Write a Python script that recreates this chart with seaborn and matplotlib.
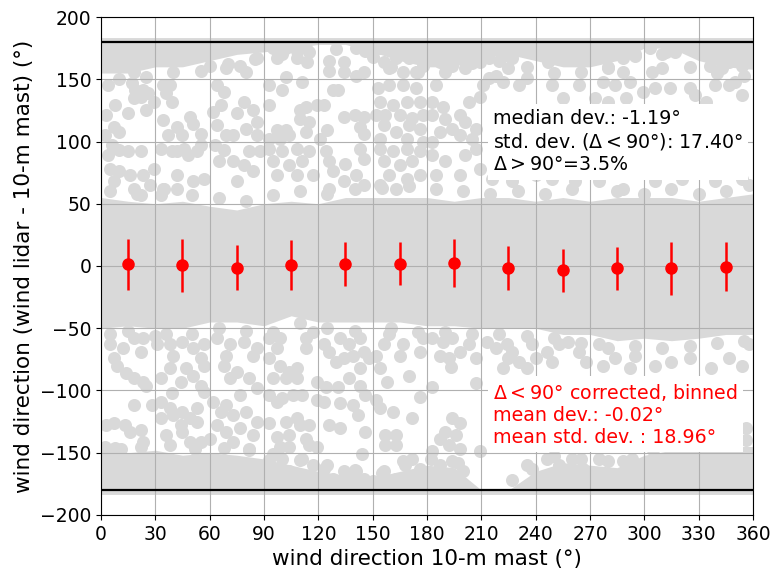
import matplotlib
matplotlib.use("Agg")
import matplotlib.pyplot as plt
import seaborn as sns
import numpy as np

# ---------------- data ----------------
# binned statistics (red error bars)
bin_centers = [15, 45, 75, 105, 135, 165, 195, 225, 255, 285, 315, 345]
bin_means = [1.5, 0.5, -1.5, 1.0, 1.5, 2.0, 2.5, -1.5, -3.5, -2.0, -2.0, -0.5]
bin_std = [20.5, 21.0, 18.0, 20.0, 17.5, 17.0, 19.5, 17.5, 17.5, 17.0, 21.0, 19.5]

# envelopes of the densely covered zones of the scatter cloud
core_x = [0, 15, 30, 45, 60, 75, 90, 105, 120, 135, 150, 165, 180,
          195, 210, 225, 240, 255, 270, 285, 300, 315, 330, 345, 360]
mid_hi = [55, 52, 50, 52, 48, 45, 50, 52, 50, 55, 55, 55, 55,
          52, 55, 55, 52, 55, 52, 55, 55, 55, 52, 55, 58]
mid_lo = [-50, -48, -50, -50, -45, -45, -48, -40, -45, -45, -45, -45, -48,
          -48, -50, -50, -50, -55, -55, -60, -58, -60, -58, -55, -55]
top_lo = [155, 155, 160, 160, 165, 170, 172, 175, 178, 178, 172, 165, 160,
          160, 168, 170, 165, 160, 160, 165, 175, 175, 165, 160, 158]
bot_hi = [-150, -150, -148, -152, -150, -152, -155, -160, -165, -168, -170, -165, -160,
          -162, -180, -180, -165, -158, -160, -162, -152, -148, -145, -145, -145]

# points scattered along the borders of the dense zones
edge_pts = [
    (5,60),(20,58),(35,62),(50,57),(65,55),(80,52),(95,57),(110,60),(125,58),(140,62),(155,63),
    (170,64),(185,62),(200,60),(215,58),(230,60),(245,58),(260,62),(285,60),(300,58),(315,62),
    (330,58),(345,60),(358,65),
    (5,-55),(15,-52),(30,-56),(50,-55),(65,-50),(80,-52),(95,-53),(110,-46),(125,-50),(140,-52),
    (160,-50),(175,-53),(190,-53),(205,-55),(220,-55),(235,-56),(250,-58),(265,-62),(280,-66),
    (295,-64),(310,-66),(325,-64),(340,-62),(355,-60),
    (10,150),(25,152),(40,156),(55,157),(70,162),(85,166),(100,170),(115,172),(130,174),(150,168),
    (160,160),(175,156),(190,156),(205,163),(220,165),(235,160),(250,155),(265,156),(280,160),
    (295,170),(310,170),(325,160),(340,155),(355,153),
    (8,-146),(22,-145),(38,-144),(52,-147),(68,-146),(82,-148),(95,-151),(110,-156),(125,-160),
    (140,-164),(155,-166),(168,-160),(182,-155),(197,-158),(235,-160),(250,-153),(265,-155),
    (280,-157),(293,-155),(305,-148),(320,-143),(335,-141),(350,-141),
]

# scattered individual points (upper half)
upper_pts = [
    (4,145),(8,129),(3,121),(15,123),(7,112),(10,108),(2,105),(17,147),(19,141),(23,141),(22,136),
    (26,139),(29,132),(25,125),(18,135),(34,145),(38,145),(36,139),(39,132),(34,117),(42,112),(49,120),
    (51,114),(37,105),(45,105),(55,106),(55,97),(42,92),(48,89),(53,92),(46,94),(6,97),(10,93),(15,92),
    (22,92),(4,89),(33,94),(39,92),(64,145),(68,140),(66,129),(62,124),(64,113),(69,105),(75,123),
    (79,132),(84,125),(86,116),(80,110),(86,105),(73,105),(63,97),(68,93),(65,84),(73,84),(79,81),
    (84,76),(75,68),(82,92),(88,92),(5,78),(10,76),(16,73),(23,73),(29,78),(7,68),(18,62),(27,65),
    (42,73),(34,62),(42,62),(51,68),(57,70),(33,57),(22,57),(18,156),(60,161),(69,159),(77,161),
    (86,167),(80,156),
    (95,175),(102,175),(108,173),(113,175),(97,167),(108,167),(114,164),(126,165),(134,164),(126,157),
    (134,156),(141,153),(141,175),(146,173),(145,156),(154,175),(161,175),(169,175),(176,175),(156,164),
    (163,167),(170,167),(178,161),(159,159),(167,156),(174,156),(93,145),(102,152),(111,148),(93,129),
    (100,141),(110,125),(113,128),(119,129),(115,116),(110,118),(123,129),(128,141),(131,141),(134,120),
    (140,121),(145,120),(143,112),(145,106),(125,109),(113,108),(97,109),(102,109),(104,105),(93,102),
    (99,102),(121,102),(153,143),(159,145),(167,145),(174,143),(154,132),(161,129),(169,132),(176,132),
    (152,121),(157,121),(165,121),(172,119),(178,121),(156,113),(163,108),(170,113),(176,110),(154,102),
    (169,102),(178,100),(93,94),(100,92),(108,94),(115,92),(95,84),(104,81),(111,84),(97,73),(108,73),
    (117,73),(124,92),(126,84),(128,76),(135,82),(143,94),(145,86),(141,73),(134,68),(145,65),(126,62),
    (154,94),(161,92),(169,94),(176,92),(156,84),(165,81),(172,84),(159,73),(169,70),(176,73),(154,65),
    (163,62),
    (183,175),(190,175),(198,175),(205,175),(187,164),(194,161),(201,159),(209,164),(214,167),(222,169),
    (227,167),(225,159),(218,153),(211,145),(214,151),(222,148),(231,145),(235,151),(249,145),(255,135),
    (247,164),(255,167),(262,169),(266,175),(246,175),(264,145),(185,145),(183,132),(189,128),(183,121),
    (190,118),(198,121),(201,116),(194,110),(187,108),(207,110),(203,132),(209,136),(198,105),(205,102),
    (183,100),(216,70),(227,68),(240,73),(249,70),(262,68),(183,89),(190,84),(201,89),(209,78),(198,73),
    (185,73),(207,94),
    (273,169),(280,175),(288,167),(295,169),(303,175),(312,172),(317,172),(310,159),(304,156),(288,156),
    (280,159),(277,148),(284,145),(292,148),(299,140),(306,143),(314,143),(325,143),(339,145),(347,145),
    (350,148),(354,137),(334,132),(328,137),(273,135),(280,132),(290,135),(334,175),(339,169),(347,164),
    (354,161),(343,159),(336,161),(275,68),(288,62),(306,68),(321,70),(339,68),(354,70),
]

# scattered individual points (lower half)
lower_pts = [
    (5,-63),(12,-66),(7,-74),(18,-58),(23,-58),(31,-63),(38,-63),(45,-61),(51,-66),(57,-63),(64,-58),
    (71,-63),(79,-61),(86,-66),(22,-69),(40,-72),(55,-74),(69,-72),(84,-72),(36,-55),(9,-80),(14,-86),
    (18,-90),(23,-93),(25,-96),(33,-90),(38,-82),(47,-82),(51,-88),(44,-93),(55,-96),(57,-80),(68,-80),
    (75,-85),(71,-90),(82,-90),(86,-98),(77,-104),(62,-109),(69,-112),(18,-112),(28,-112),(33,-109),
    (38,-114),(40,-120),(33,-122),(45,-117),(49,-122),(53,-114),(44,-128),(53,-125),(57,-101),(45,-133),
    (36,-136),(49,-141),(55,-141),(3,-128),(7,-126),(13,-128),(16,-133),(22,-132),(23,-141),(11,-147),
    (7,-147),(2,-145),(66,-117),(73,-120),(80,-117),(86,-125),(64,-128),(69,-133),(77,-130),(84,-136),
    (60,-139),(73,-141),(82,-147),(39,-102),
    (93,-58),(99,-58),(97,-66),(93,-74),(99,-80),(104,-85),(108,-90),(95,-90),(102,-90),(108,-82),
    (113,-58),(113,-66),(117,-53),(123,-63),(126,-69),(130,-77),(134,-74),(137,-63),(143,-58),(145,-69),
    (139,-72),(132,-58),(137,-90),(143,-82),(143,-96),(148,-74),(152,-72),(156,-63),(154,-82),(159,-55),
    (167,-63),(165,-72),(176,-69),(178,-58),(170,-88),(158,-93),(119,-93),(124,-97),(131,-97),(93,-104),
    (97,-109),(100,-106),(106,-104),(111,-104),(119,-108),(123,-109),(132,-110),(139,-112),(142,-120),
    (146,-104),(152,-108),(154,-114),(161,-117),(176,-105),(172,-122),(93,-126),(102,-125),(108,-122),
    (110,-128),(115,-128),(97,-137),(104,-136),(113,-139),(99,-145),(104,-145),(115,-144),(119,-145),
    (126,-128),(132,-130),(146,-133),(157,-136),(163,-136),(157,-144),(163,-144),(144,-151),(93,-156),
    (100,-155),(111,-155),(104,-165),(93,-171),(99,-173),(108,-173),(117,-160),(123,-163),(128,-171),
    (134,-165),(137,-168),(141,-165),(145,-171),(139,-173),(150,-173),(156,-165),(163,-171),(167,-157),
    (172,-155),(176,-163),(170,-171),(178,-173),
    (183,-58),(189,-61),(194,-58),(187,-72),(192,-74),(198,-69),(203,-63),(207,-74),(193,-81),(213,-61),
    (218,-66),(224,-63),(227,-69),(231,-77),(235,-82),(222,-82),(225,-74),(238,-63),(240,-74),(246,-69),
    (249,-77),(253,-63),(258,-61),(264,-69),(268,-77),(207,-94),(183,-97),(194,-122),(198,-126),
    (190,-133),(196,-136),(187,-139),(192,-144),(198,-147),(209,-149),(183,-149),(187,-160),(194,-157),
    (183,-168),(190,-171),(200,-165),(227,-172),(238,-163),(246,-155),(253,-160),(260,-155),(266,-163),
    (249,-171),(257,-173),(264,-173),
    (275,-63),(284,-74),(295,-72),(306,-80),(315,-77),(325,-74),(337,-82),(347,-74),(354,-80),(358,-63),
    (292,-82),(277,-80),(275,-155),(288,-157),(306,-155),(334,-155),(356,-130),(356,-140),(350,-145),
]

x_ticks = list(range(0, 361, 30))
y_ticks = list(range(-200, 201, 50))
txt_black = "median dev.: -1.19°\nstd. dev. ($\\Delta < 90°$): 17.40°\n$\\Delta > 90°$=3.5%"
txt_red = "$\\Delta < 90°$ corrected, binned\nmean dev.: -0.02°\nmean std. dev. : 18.96°"

# ---------------- plotting ----------------
GREY = "#d9d9d9"
fig = plt.figure(figsize=(7.75, 5.77), dpi=100)
ax = fig.add_axes([0.1303, 0.1075, 0.8413, 0.863])

ax.fill_between(core_x, mid_lo, mid_hi, color=GREY, lw=0)
ax.fill_between(core_x, top_lo, [183.5] * len(core_x), color=GREY, lw=0)
ax.fill_between(core_x, [-183.5] * len(core_x), bot_hi, color=GREY, lw=0)

pts = edge_pts + upper_pts + lower_pts
sns.scatterplot(x=[p[0] for p in pts], y=[p[1] for p in pts], color=GREY,
                s=88, linewidth=0, ax=ax, legend=False)

ax.axhline(180, color="black", lw=1.6, zorder=2.5)
ax.axhline(-180, color="black", lw=1.6, zorder=2.5)

ax.errorbar(bin_centers, bin_means, yerr=bin_std, fmt="o", color="red",
            ms=8, elinewidth=1.8, capsize=0, zorder=3)

ax.set_xlim(0, 360)
ax.set_ylim(-200, 200)
ax.set_xticks(x_ticks)
ax.set_yticks(y_ticks)
ax.grid(True, color="#b0b0b0", lw=0.8)
ax.tick_params(labelsize=13.5)
ax.set_xlabel("wind direction 10-m mast (°)", fontsize=15.5)
ax.set_ylabel("wind direction (wind lidar - 10-m mast) (°)", fontsize=15.5)

ax.text(216.5, 126, txt_black, fontsize=13.7, va="top", ha="left", color="black",
        zorder=5, bbox=dict(facecolor="white", edgecolor="none", pad=4))
ax.text(216.5, -93, txt_red, fontsize=13.7, va="top", ha="left", color="red",
        zorder=5, bbox=dict(facecolor="white", edgecolor="none", pad=4))

fig.savefig("out.png", dpi=100)
